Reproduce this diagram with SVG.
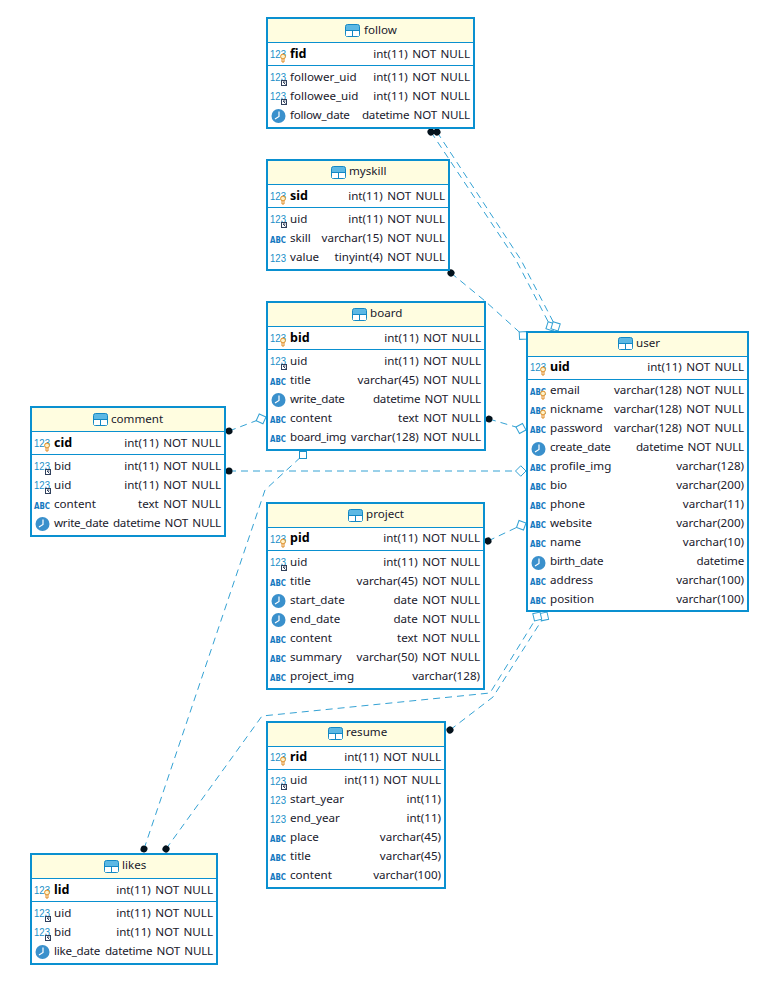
<svg xmlns="http://www.w3.org/2000/svg" width="759" height="988" viewBox="0 0 759 988">
<style>
.box{fill:#fff;stroke:#0a90d0;stroke-width:2}
.head{fill:#fffde0}
.sep{stroke:#0a90d0;stroke-width:1}
text{font-family:"Noto Sans","Liberation Sans",sans-serif;font-size:11.6px;word-spacing:1.4px;fill:#20202c}
.r{text-anchor:end}
.d{letter-spacing:-.18px}
.dn{letter-spacing:-.25px}
.b{font-weight:700;font-size:12.5px;fill:#000}
.n{font-size:11px;fill:#1a8fc8;font-family:"Liberation Sans",sans-serif}
.a{font-size:8px;font-weight:700;fill:#1478c0;font-family:"DejaVu Sans",sans-serif}
.c{fill:none;stroke:#34a2d4;stroke-width:1;stroke-dasharray:7 5}
</style>
<defs>
<marker id="dot" markerUnits="userSpaceOnUse" markerWidth="10" markerHeight="10" refX="5" refY="5" orient="auto"><circle cx="5" cy="5" r="3.500" fill="#04121c"/></marker>
<marker id="dia" markerUnits="userSpaceOnUse" markerWidth="14" markerHeight="14" refX="12" refY="7" orient="auto"><path d="M1.500,7 L6.750,1.750 L12,7 L6.750,12.250Z" fill="#fff" stroke="#34a2d4"/></marker>
<g id="tb"><rect x="0.500" y="0.500" width="14" height="12" rx="2" fill="#5cb8e4" stroke="#1488c4"/><rect x="1" y="6" width="13" height="6" fill="#fff"/><path d="M0.500,6.500H14.500M7.500,6.500V12.500" stroke="#1488c4" fill="none"/></g>
<g id="bulb"><circle cx="13" cy="10.500" r="2.400" fill="#fff2c8" stroke="#e08a20"/><path d="M12,13V16H14V13" fill="none" stroke="#e08a20"/></g>
<g id="ref"><rect x="11.500" y="11.500" width="5" height="5" fill="#fff" stroke="#30405c"/><path d="M13,13H15.500M13,13L15.500,15.500" stroke="#30405c" fill="none"/></g>
<g id="pk"><text class="n" x="0" y="12" textLength="16" lengthAdjust="spacingAndGlyphs">123</text><use href="#bulb"/></g>
<g id="fk"><text class="n" x="0" y="12" textLength="16" lengthAdjust="spacingAndGlyphs">123</text><use href="#ref"/></g>
<g id="num"><text class="n" x="0" y="12" textLength="16" lengthAdjust="spacingAndGlyphs">123</text></g>
<g id="abc"><text class="a" x="0" y="11.500" textLength="16" lengthAdjust="spacingAndGlyphs">ABC</text></g>
<g id="abk"><text class="a" x="0" y="11.500" textLength="16" lengthAdjust="spacingAndGlyphs">ABC</text><use href="#bulb"/></g>
<g id="clk"><circle cx="8.500" cy="8" r="7" fill="#3a90cc"/><path d="M9,3.500V8.500L5,11" fill="none" stroke="#fff" stroke-width="1.200"/></g>
</defs>

<g id="connectors">
<path class="c" marker-start="url(#dot)" marker-end="url(#dia)" d="M431,132L516,260L553,331"/>
<path class="c" marker-start="url(#dot)" marker-end="url(#dia)" d="M437,132L521,260L558,331"/>
<path class="c" marker-start="url(#dot)" marker-end="url(#dia)" d="M451,273L485,301L527,339"/>
<path class="c" marker-start="url(#dot)" marker-end="url(#dia)" d="M489,419L526,430"/>
<path class="c" marker-start="url(#dot)" marker-end="url(#dia)" d="M229,431L266,417"/>
<path class="c" marker-start="url(#dot)" marker-end="url(#dia)" d="M229,471L526,471"/>
<path class="c" marker-start="url(#dot)" marker-end="url(#dia)" d="M488,541L526,523"/>
<path class="c" marker-start="url(#dot)" marker-end="url(#dia)" d="M450,730L493,697L547,612"/>
<path class="c" marker-start="url(#dot)" marker-end="url(#dia)" d="M166,849L262,716L490,693L540,612"/>
<path class="c" marker-start="url(#dot)" d="M144,849L265,490L303,455"/>
<rect x="299.500" y="451.500" width="7" height="7" fill="#fff" stroke="#1a90c8"/>
</g>

<g id="follow">
<rect class="box" x="267" y="18" width="207" height="110"/><rect class="head" x="268" y="19" width="205" height="23"/><path class="sep" d="M267,42.500H474M267,65.500H474"/>
<use href="#tb" x="345" y="24"/><text x="364" y="34">follow</text>
<use href="#pk" x="270" y="46"/><text class="b" x="290" y="58">fid</text><text class="r" x="470" y="58">int(11) NOT NULL</text>
<use href="#fk" x="270" y="69"/><text x="290" y="81">follower_uid</text><text class="r" x="470" y="81">int(11) NOT NULL</text>
<use href="#fk" x="270" y="88"/><text x="290" y="100">followee_uid</text><text class="r" x="470" y="100">int(11) NOT NULL</text>
<use href="#clk" x="270" y="108"/><text class="dn" x="290" y="119">follow_date</text><text class="r d" x="470" y="119">datetime NOT NULL</text>
</g>

<g id="myskill">
<rect class="box" x="267" y="160" width="182" height="110"/><rect class="head" x="268" y="161" width="180" height="23"/><path class="sep" d="M267,184.500H449M267,207.500H449"/>
<use href="#tb" x="331" y="166"/><text x="349" y="175">myskill</text>
<use href="#pk" x="270" y="188"/><text class="b" x="290" y="200">sid</text><text class="r" x="445" y="200">int(11) NOT NULL</text>
<use href="#fk" x="270" y="211"/><text x="290" y="223">uid</text><text class="r" x="445" y="223">int(11) NOT NULL</text>
<use href="#abc" x="270" y="231"/><text x="290" y="242">skill</text><text class="r" x="445" y="242">varchar(15) NOT NULL</text>
<use href="#num" x="270" y="250"/><text x="290" y="261">value</text><text class="r" x="445" y="261">tinyint(4) NOT NULL</text>
</g>

<g id="board">
<rect class="box" x="267" y="302" width="218" height="148"/><rect class="head" x="268" y="303" width="216" height="23"/><path class="sep" d="M267,326.500H485M267,349.500H485"/>
<use href="#tb" x="352" y="308"/><text x="370" y="317">board</text>
<use href="#pk" x="270" y="330"/><text class="b" x="290" y="342">bid</text><text class="r" x="481" y="342">int(11) NOT NULL</text>
<use href="#fk" x="270" y="353"/><text x="290" y="365">uid</text><text class="r" x="481" y="365">int(11) NOT NULL</text>
<use href="#abc" x="270" y="373"/><text x="290" y="384">title</text><text class="r" x="481" y="384">varchar(45) NOT NULL</text>
<use href="#clk" x="270" y="392"/><text class="dn" x="290" y="403">write_date</text><text class="r d" x="481" y="403">datetime NOT NULL</text>
<use href="#abc" x="270" y="411"/><text x="290" y="422">content</text><text class="r" x="481" y="422">text NOT NULL</text>
<use href="#abc" x="270" y="430"/><text class="dn" x="290" y="441">board_img</text><text class="r" x="481" y="441">varchar(128) NOT NULL</text>
</g>

<g id="user">
<rect class="box" x="527" y="332" width="221" height="279"/><rect class="head" x="528" y="333" width="219" height="23"/><path class="sep" d="M527,356.500H748M527,379.500H748"/>
<use href="#tb" x="618" y="337"/><text x="636" y="347">user</text>
<use href="#pk" x="530" y="359"/><text class="b" x="550" y="371">uid</text><text class="r" x="744" y="371">int(11) NOT NULL</text>
<use href="#abk" x="530" y="383"/><text x="550" y="394">email</text><text class="r" x="744" y="394">varchar(128) NOT NULL</text>
<use href="#abk" x="530" y="402"/><text x="550" y="413">nickname</text><text class="r" x="744" y="413">varchar(128) NOT NULL</text>
<use href="#abc" x="530" y="421"/><text x="550" y="432">password</text><text class="r" x="744" y="432">varchar(128) NOT NULL</text>
<use href="#clk" x="530" y="441"/><text class="dn" x="550" y="451">create_date</text><text class="r d" x="744" y="451">datetime NOT NULL</text>
<use href="#abc" x="530" y="459"/><text x="550" y="470">profile_img</text><text class="r" x="744" y="470">varchar(128)</text>
<use href="#abc" x="530" y="478"/><text x="550" y="489">bio</text><text class="r" x="744" y="489">varchar(200)</text>
<use href="#abc" x="530" y="497"/><text x="550" y="508">phone</text><text class="r" x="744" y="508">varchar(11)</text>
<use href="#abc" x="530" y="516"/><text x="550" y="527">website</text><text class="r" x="744" y="527">varchar(200)</text>
<use href="#abc" x="530" y="535"/><text x="550" y="546">name</text><text class="r" x="744" y="546">varchar(10)</text>
<use href="#clk" x="530" y="555"/><text class="dn" x="550" y="565">birth_date</text><text class="r d" x="744" y="565">datetime</text>
<use href="#abc" x="530" y="573"/><text x="550" y="584">address</text><text class="r" x="744" y="584">varchar(100)</text>
<use href="#abc" x="530" y="592"/><text x="550" y="603">position</text><text class="r" x="744" y="603">varchar(100)</text>
</g>

<g id="comment">
<rect class="box" x="31" y="407" width="194" height="129"/><rect class="head" x="32" y="408" width="192" height="23"/><path class="sep" d="M31,431.500H225M31,454.500H225"/>
<use href="#tb" x="93" y="413"/><text x="111" y="423">comment</text>
<use href="#pk" x="34" y="435"/><text class="b" x="54" y="447">cid</text><text class="r" x="221" y="447">int(11) NOT NULL</text>
<use href="#fk" x="34" y="458"/><text x="54" y="470">bid</text><text class="r" x="221" y="470">int(11) NOT NULL</text>
<use href="#fk" x="34" y="477"/><text x="54" y="489">uid</text><text class="r" x="221" y="489">int(11) NOT NULL</text>
<use href="#abc" x="34" y="497"/><text x="54" y="508">content</text><text class="r" x="221" y="508">text NOT NULL</text>
<use href="#clk" x="34" y="516"/><text class="dn" x="54" y="527">write_date</text><text class="r d" x="221" y="527">datetime NOT NULL</text>
</g>

<g id="project">
<rect class="box" x="267" y="503" width="217" height="186"/><rect class="head" x="268" y="504" width="215" height="23"/><path class="sep" d="M267,527.500H484M267,550.500H484"/>
<use href="#tb" x="348" y="509"/><text x="366" y="518">project</text>
<use href="#pk" x="270" y="531"/><text class="b" x="290" y="542">pid</text><text class="r" x="480" y="542">int(11) NOT NULL</text>
<use href="#fk" x="270" y="554"/><text x="290" y="566">uid</text><text class="r" x="480" y="566">int(11) NOT NULL</text>
<use href="#abc" x="270" y="574"/><text x="290" y="585">title</text><text class="r" x="480" y="585">varchar(45) NOT NULL</text>
<use href="#clk" x="270" y="593"/><text x="290" y="604">start_date</text><text class="r" x="480" y="604">date NOT NULL</text>
<use href="#clk" x="270" y="612"/><text x="290" y="623">end_date</text><text class="r" x="480" y="623">date NOT NULL</text>
<use href="#abc" x="270" y="631"/><text x="290" y="642">content</text><text class="r" x="480" y="642">text NOT NULL</text>
<use href="#abc" x="270" y="650"/><text x="290" y="661">summary</text><text class="r" x="480" y="661">varchar(50) NOT NULL</text>
<use href="#abc" x="270" y="669"/><text x="290" y="680">project_img</text><text class="r" x="480" y="680">varchar(128)</text>
</g>

<g id="resume">
<rect class="box" x="267" y="722" width="178" height="166"/><rect class="head" x="268" y="723" width="176" height="23"/><path class="sep" d="M267,746.500H445M267,769.500H445"/>
<use href="#tb" x="328" y="727"/><text x="346" y="736">resume</text>
<use href="#pk" x="270" y="749"/><text class="b" x="290" y="761">rid</text><text class="r" x="441" y="761">int(11) NOT NULL</text>
<use href="#fk" x="270" y="773"/><text x="290" y="784">uid</text><text class="r" x="441" y="784">int(11) NOT NULL</text>
<use href="#num" x="270" y="792"/><text x="290" y="803">start_year</text><text class="r" x="441" y="803">int(11)</text>
<use href="#num" x="270" y="811"/><text x="290" y="822">end_year</text><text class="r" x="441" y="822">int(11)</text>
<use href="#abc" x="270" y="830"/><text x="290" y="841">place</text><text class="r" x="441" y="841">varchar(45)</text>
<use href="#abc" x="270" y="849"/><text x="290" y="860">title</text><text class="r" x="441" y="860">varchar(45)</text>
<use href="#abc" x="270" y="868"/><text x="290" y="879">content</text><text class="r" x="441" y="879">varchar(100)</text>
</g>

<g id="likes">
<rect class="box" x="31" y="854" width="186" height="110"/><rect class="head" x="32" y="855" width="184" height="23"/><path class="sep" d="M31,878.500H217M31,901.500H217"/>
<use href="#tb" x="104" y="860"/><text x="122" y="869">likes</text>
<use href="#pk" x="34" y="882"/><text class="b" x="54" y="894">lid</text><text class="r" x="213" y="894">int(11) NOT NULL</text>
<use href="#fk" x="34" y="905"/><text x="54" y="917">uid</text><text class="r" x="213" y="917">int(11) NOT NULL</text>
<use href="#fk" x="34" y="924"/><text x="54" y="936">bid</text><text class="r" x="213" y="936">int(11) NOT NULL</text>
<use href="#clk" x="34" y="944"/><text class="dn" x="54" y="955">like_date</text><text class="r d" x="213" y="955">datetime NOT NULL</text>
</g>
</svg>
